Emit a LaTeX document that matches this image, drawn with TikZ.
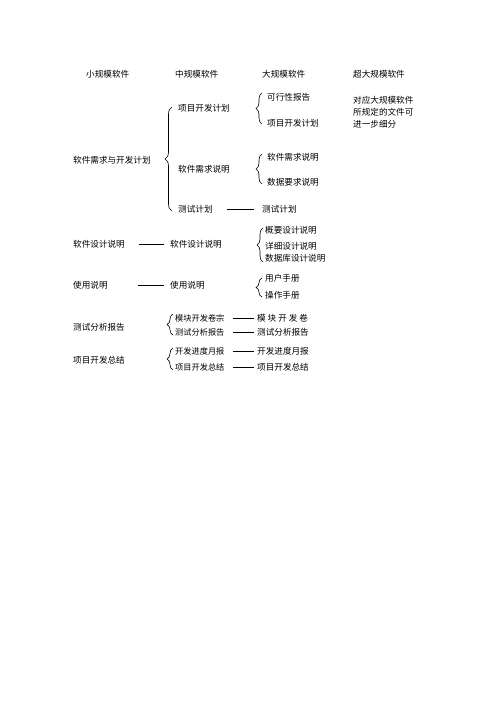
\documentclass[tikz,border=0pt]{standalone}
\usepackage{fontspec}
\newfontfamily\cjk{Noto Sans CJK SC}
\usetikzlibrary{decorations.pathreplacing}
\tikzset{
  t/.style={anchor=west,inner sep=0pt,font=\cjk\fontsize{8.6pt}{10pt}\selectfont},
  ts/.style={anchor=west,inner sep=0pt,font=\cjk\fontsize{8.2pt}{10pt}\selectfont},
  br/.style={decorate,decoration={brace,amplitude=#1},line width=0.6pt},
  ln/.style={line width=0.9pt},
}
\begin{document}
\begin{tikzpicture}[x=1pt,y=-1pt]
\useasboundingbox[fill=white] (0,0) rectangle (496,702);
% headers
\node[t] (h1) at (86,74) {小规模软件};
\node[t] (h2) at (175,74) {中规模软件};
\node[t] (h3) at (262,74) {大规模软件};
\node[t] (h4) at (353,74) {超大规模软件};
% group 1
\node[t] (a1) at (73,160) {软件需求与开发计划};
\node[t] (b1) at (178,108) {项目开发计划};
\node[t] (b2) at (178,169) {软件需求说明};
\node[t] (b3) at (178,209) {测试计划};
\node[t] (c1) at (267,97) {可行性报告};
\node[t] (c2) at (267,123) {项目开发计划};
\node[t] (c3) at (267,157) {软件需求说明};
\node[t] (c4) at (267,182) {数据要求说明};
\node[t] (c5) at (262,209) {测试计划};
\node[t] (d1) at (353,100) {对应大规模软件};
\node[t] (d2) at (353,112) {所规定的文件可};
\node[t] (d3) at (353,124) {进一步细分};
\draw[br=7pt] (172,211) -- (172,107);
\draw[br=6pt] (262,124) -- (262,93);
\draw[br=6pt] (262,184) -- (262,154);
\draw[ln,shorten <=14pt,shorten >=8pt] (b3.east) -- (c5.west);
% group 2
\node[t] (a2) at (73,244) {软件设计说明};
\node[t] (b4) at (170,244) {软件设计说明};
\node[t] (c6) at (265,230) {概要设计说明};
\node[t] (c7) at (265,246) {详细设计说明};
\node[t] (c8) at (265,258) {数据库设计说明};
\draw[br=6pt] (263,262) -- (263,228);
\draw[ln,shorten <=13.5pt,shorten >=6pt] (a2.east) -- (b4.west);
% group 3
\node[t] (a3) at (73,285.5) {使用说明};
\node[t] (b5) at (170,285.5) {使用说明};
\node[t] (c9) at (265,278) {用户手册};
\node[t] (c10) at (265,295) {操作手册};
\draw[br=6pt] (262,297) -- (262,278);
\draw[ln,shorten <=30.5pt,shorten >=6pt] (a3.east) -- (b5.west);
% group 4
\node[t] (a4) at (73,327) {测试分析报告};
\node[ts] (b6) at (175,318) {模块开发卷宗};
\node[ts] (b7) at (175,332.5) {测试分析报告};
\node[t] (c11) at (257,318) {模 块 开 发 卷};
\node[t] (c12) at (257,332.5) {测试分析报告};
\draw[br=6pt] (173,335) -- (173,314);
\draw[ln,shorten <=8pt,shorten >=3pt] (b6.east) -- (c11.west);
\draw[ln,shorten <=8pt,shorten >=3pt] (b7.east) -- (c12.west);
% group 5
\node[t] (a5) at (73,360) {项目开发总结};
\node[ts] (b8) at (175,351) {开发进度月报};
\node[ts] (b9) at (175,367) {项目开发总结};
\node[t] (c13) at (257,351) {开发进度月报};
\node[t] (c14) at (257,367) {项目开发总结};
\draw[br=6pt] (173,370) -- (173,348);
\draw[ln,shorten <=8pt,shorten >=3pt] (b8.east) -- (c13.west);
\draw[ln,shorten <=8pt,shorten >=3pt] (b9.east) -- (c14.west);
\end{tikzpicture}
\end{document}
